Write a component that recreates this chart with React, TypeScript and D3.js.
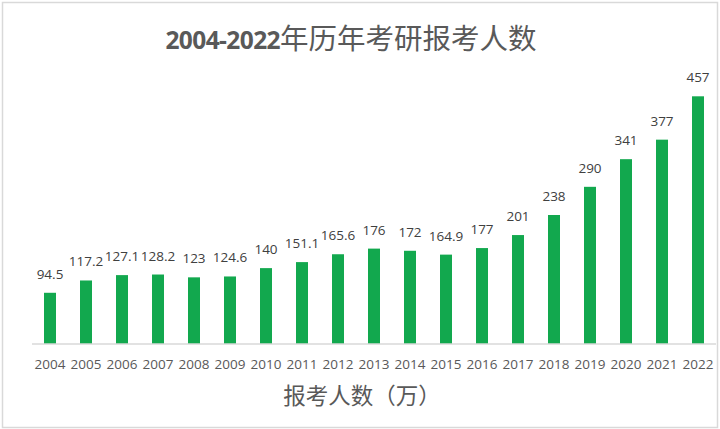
import * as d3 from 'd3';

const YEARS = ['2004', '2005', '2006', '2007', '2008', '2009', '2010', '2011', '2012', '2013',
  '2014', '2015', '2016', '2017', '2018', '2019', '2020', '2021', '2022'];
const APPLICANTS = [94.5, 117.2, 127.1, 128.2, 123, 124.6, 140, 151.1, 165.6, 176,
  172, 164.9, 177, 201, 238, 290, 341, 377, 457];
const TITLE_NUM = '2004-2022';
const TITLE_TEXT = '年历年考研报考人数';
const AXIS_TITLE = '报考人数（万）';

const W = 720;
const H = 429;
const BAR = '#12a84e';
const NUM_FONT = '"Open Sans", "Liberation Sans", sans-serif';
const CJK_FONT = '"Noto Sans CJK SC", sans-serif';

export default function App() {
  const margin = { left: 32, right: 4, base: 344, top: 73 };

  const x = d3.scaleBand<string>()
    .domain(YEARS)
    .range([margin.left, W - margin.right])
    .paddingInner(2 / 3)
    .paddingOuter(1 / 3);

  const y = d3.scaleLinear().domain([0, 500]).range([margin.base, margin.top]);

  return (
    <svg width={W} height={H} style={{ position: 'absolute', left: 0, top: 0 }}>
      <rect x={0} y={0} width={W} height={H} fill="#ffffff" />
      <rect x={2.5} y={2.5} width={W - 5} height={H - 4} fill="none" stroke="#d9d9d9" strokeWidth={1.5} />

      {/* title */}
      <text x={351} y={49} textAnchor="middle" fill="#595959">
        <tspan fontFamily={NUM_FONT} fontWeight={700} fontSize={24.5} letterSpacing={-0.6}>{TITLE_NUM}</tspan>
        <tspan fontFamily={CJK_FONT} fontWeight={400} fontSize={28.5}>{TITLE_TEXT}</tspan>
      </text>

      {/* bars */}
      {APPLICANTS.map((v, i) => (
        <rect key={YEARS[i]}
          x={x(YEARS[i])}
          y={y(v)}
          width={x.bandwidth()}
          height={y(0) - y(v)}
          fill={BAR} />
      ))}

      {/* value labels */}
      {APPLICANTS.map((v, i) => (
        <text key={'v' + YEARS[i]}
          x={(x(YEARS[i]) ?? 0) + x.bandwidth() / 2}
          y={y(v) - 14}
          textAnchor="middle"
          fontFamily={NUM_FONT}
          fontSize={13.5}
          fill="#404040">{v}</text>
      ))}

      {/* axis line */}
      <line x1={margin.left} x2={W - margin.right} y1={y(0)} y2={y(0)} stroke="#d9d9d9" strokeWidth={1.5} />

      {/* year labels */}
      {YEARS.map(d => (
        <text key={'x' + d}
          x={(x(d) ?? 0) + x.bandwidth() / 2}
          y={369}
          textAnchor="middle"
          fontFamily={NUM_FONT}
          fontSize={13.5}
          fill="#595959">{d}</text>
      ))}

      {/* axis title */}
      <text x={362} y={404} textAnchor="middle" fontFamily={CJK_FONT} fontSize={22.5} fill="#595959">
        {AXIS_TITLE}
      </text>
    </svg>
  );
}
